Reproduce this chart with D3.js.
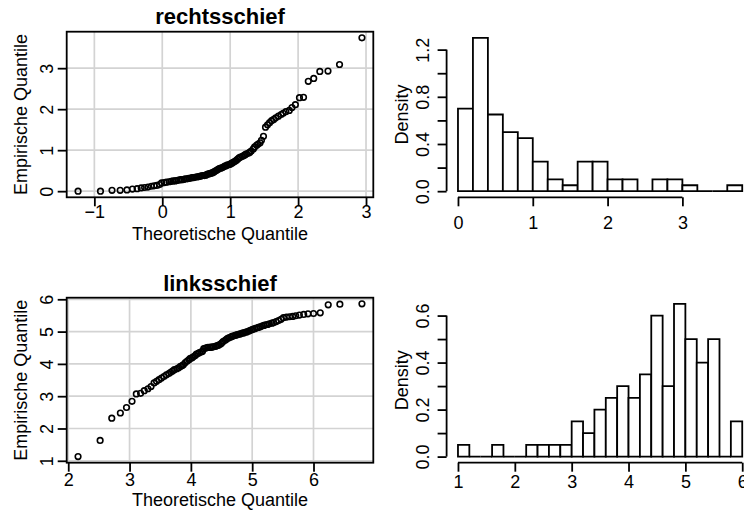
<!DOCTYPE html>
<html>
<head>
<meta charset="utf-8">
<script src="https://cdn.jsdelivr.net/npm/d3@7"></script>
<style>
  body { margin: 0; background: #fff; }
  svg { display: block; font-family: "Liberation Sans", Arial, Helvetica, sans-serif; }
</style>
</head>
<body>
<div id="chart"></div>
<script>
// ---- data ----
const rechtsTheo = [
  -1.24, -0.91, -0.74, -0.62, -0.52, -0.44, -0.37, -0.31, -0.26, -0.21,
  -0.16, -0.12, -0.08, -0.04, -0.01, 0.03, 0.06, 0.10, 0.13, 0.16,
  0.19, 0.21, 0.24, 0.27, 0.29, 0.32, 0.34, 0.37, 0.39, 0.42,
  0.44, 0.46, 0.48, 0.51, 0.53, 0.55, 0.57, 0.59, 0.62, 0.64,
  0.66, 0.68, 0.70, 0.72, 0.74, 0.76, 0.78, 0.80, 0.82, 0.84,
  0.86, 0.88, 0.90, 0.92, 0.94, 0.96, 0.99, 1.01, 1.03, 1.05,
  1.07, 1.09, 1.11, 1.13, 1.15, 1.18, 1.20, 1.22, 1.24, 1.27,
  1.29, 1.31, 1.34, 1.36, 1.39, 1.41, 1.44, 1.46, 1.49, 1.52,
  1.55, 1.58, 1.61, 1.64, 1.67, 1.71, 1.75, 1.78, 1.82, 1.87,
  1.91, 1.96, 2.02, 2.08, 2.15, 2.23, 2.32, 2.44, 2.61, 2.94
];
const rechtsEmp = [
  0.00, 0.00, 0.02, 0.02, 0.03, 0.05, 0.06, 0.08, 0.09, 0.10,
  0.12, 0.13, 0.14, 0.16, 0.20, 0.21, 0.22, 0.23, 0.24, 0.25,
  0.25, 0.26, 0.27, 0.28, 0.28, 0.29, 0.30, 0.30, 0.31, 0.32,
  0.33, 0.33, 0.34, 0.35, 0.35, 0.36, 0.37, 0.38, 0.38, 0.39,
  0.41, 0.42, 0.43, 0.44, 0.45, 0.47, 0.49, 0.51, 0.53, 0.55,
  0.56, 0.57, 0.59, 0.61, 0.62, 0.64, 0.65, 0.67, 0.69, 0.71,
  0.73, 0.75, 0.78, 0.81, 0.83, 0.85, 0.87, 0.89, 0.91, 0.93,
  0.95, 0.98, 1.03, 1.08, 1.12, 1.15, 1.18, 1.24, 1.34, 1.56,
  1.62, 1.67, 1.72, 1.75, 1.79, 1.83, 1.87, 1.90, 1.94, 1.97,
  2.04, 2.11, 2.28, 2.29, 2.68, 2.75, 2.92, 2.93, 3.09, 3.74
];
const linksTheo = [
  2.16, 2.52, 2.71, 2.85, 2.95, 3.04, 3.11, 3.18, 3.24, 3.30,
  3.35, 3.40, 3.44, 3.48, 3.52, 3.56, 3.60, 3.64, 3.67, 3.70,
  3.73, 3.77, 3.80, 3.83, 3.86, 3.88, 3.91, 3.94, 3.97, 3.99,
  4.02, 4.04, 4.07, 4.09, 4.12, 4.14, 4.17, 4.19, 4.21, 4.24,
  4.26, 4.28, 4.31, 4.33, 4.35, 4.37, 4.40, 4.42, 4.44, 4.46,
  4.49, 4.51, 4.53, 4.56, 4.58, 4.60, 4.62, 4.65, 4.67, 4.69,
  4.72, 4.74, 4.76, 4.79, 4.81, 4.84, 4.86, 4.89, 4.91, 4.94,
  4.96, 4.99, 5.01, 5.04, 5.07, 5.10, 5.13, 5.16, 5.19, 5.22,
  5.25, 5.28, 5.32, 5.35, 5.39, 5.43, 5.47, 5.51, 5.56, 5.61,
  5.66, 5.71, 5.77, 5.84, 5.91, 6.00, 6.11, 6.24, 6.43, 6.79
];
const linksEmp = [
  1.13, 1.63, 2.32, 2.48, 2.65, 2.84, 3.07, 3.09, 3.17, 3.23,
  3.30, 3.41, 3.46, 3.51, 3.56, 3.61, 3.66, 3.70, 3.74, 3.78,
  3.82, 3.85, 3.88, 3.92, 3.95, 3.98, 4.04, 4.09, 4.13, 4.17,
  4.19, 4.22, 4.26, 4.30, 4.33, 4.35, 4.37, 4.39, 4.47, 4.49,
  4.50, 4.51, 4.51, 4.52, 4.52, 4.53, 4.54, 4.56, 4.57, 4.59,
  4.62, 4.66, 4.70, 4.73, 4.76, 4.79, 4.81, 4.83, 4.85, 4.86,
  4.88, 4.89, 4.91, 4.92, 4.93, 4.95, 4.96, 4.98, 4.99, 5.01,
  5.03, 5.05, 5.07, 5.09, 5.11, 5.13, 5.15, 5.17, 5.19, 5.21,
  5.22, 5.24, 5.26, 5.28, 5.31, 5.34, 5.38, 5.43, 5.45, 5.46,
  5.47, 5.49, 5.51, 5.53, 5.55, 5.56, 5.58, 5.83, 5.85, 5.86
];

const rechtsBreaks = [0, 0.2, 0.4, 0.6, 0.8, 1, 1.2, 1.4, 1.6, 1.8, 2, 2.2, 2.4, 2.6, 2.8, 3, 3.2, 3.4, 3.6, 3.8];
const rechtsDensity = [0.70, 1.30, 0.65, 0.50, 0.45, 0.25, 0.10, 0.05, 0.25, 0.25, 0.10, 0.10, 0, 0.10, 0.10, 0.05, 0, 0, 0.05];
const linksBreaks = [1, 1.2, 1.4, 1.6, 1.8, 2, 2.2, 2.4, 2.6, 2.8, 3, 3.2, 3.4, 3.6, 3.8, 4, 4.2, 4.4, 4.6, 4.8, 5, 5.2, 5.4, 5.6, 5.8, 6];
const linksDensity = [0.05, 0, 0, 0.05, 0, 0, 0.05, 0.05, 0.05, 0.05, 0.15, 0.10, 0.20, 0.25, 0.30, 0.25, 0.35, 0.60, 0.30, 0.65, 0.50, 0.40, 0.50, 0, 0.15];

const rechtsQQxTicks = [-1, 0, 1, 2, 3];
const rechtsQQyTicks = [0, 1, 2, 3];
const linksQQxTicks = [2, 3, 4, 5, 6];
const linksQQyTicks = [1, 2, 3, 4, 5, 6];
const rechtsHistXTicks = [0, 1, 2, 3];
const rechtsHistYTicks = [0, 0.2, 0.4, 0.6, 0.8, 1.0, 1.2];
const linksHistXTicks = [1, 2, 3, 4, 5, 6];
const linksHistYTicks = [0, 0.1, 0.2, 0.3, 0.4, 0.5, 0.6];

// ---- drawing ----
const W = 744, H = 520;
const svg = d3.select("#chart").append("svg")
  .attr("width", W).attr("height", H)
  .attr("viewBox", [0, 0, W, H]);

const FS = 18;
const minus = d => (d < 0 ? "\u2212" + Math.abs(d) : String(d));

// R style 4% axis expansion
function pad(ext) {
  const d = (ext[1] - ext[0]) * 0.04;
  return [ext[0] - d, ext[1] + d];
}

function styleAxis(g) {
  g.select(".domain").remove();
  g.selectAll(".tick line").attr("stroke", "#000").attr("stroke-width", 1.8);
  g.selectAll(".tick text").attr("fill", "#000").style("font-size", FS + "px");
}

function bottomAxis(x, ticks, yPos, labY, fmt) {
  const g = svg.append("g")
    .attr("transform", `translate(0,${yPos})`)
    .call(d3.axisBottom(x).tickValues(ticks).tickSize(9).tickFormat(fmt));
  styleAxis(g);
  g.selectAll(".tick text").attr("y", labY - yPos).attr("dy", 0);
  return g;
}

function leftAxis(y, ticks, xPos, labX, fmt) {
  const g = svg.append("g")
    .attr("transform", `translate(${xPos},0)`)
    .call(d3.axisLeft(y).tickValues(ticks).tickSize(9).tickFormat(fmt));
  styleAxis(g);
  g.selectAll(".tick text")
    .attr("transform", "rotate(-90)")
    .attr("x", 0).attr("y", labX - xPos).attr("dy", 0)
    .attr("text-anchor", "middle");
  return g;
}

function yTitle(txt, x, cy) {
  svg.append("text")
    .attr("transform", `translate(${x},${cy}) rotate(-90)`)
    .attr("text-anchor", "middle")
    .style("font-size", FS + "px")
    .text(txt);
}

function qqPanel(theo, emp, xTicks, yTicks, title, L) {
  const x = d3.scaleLinear().domain(pad(d3.extent(theo))).range(L.x);
  const y = d3.scaleLinear().domain(pad(d3.extent(emp))).range([L.y[1], L.y[0]]);
  const g = svg.append("g");

  // grid
  g.selectAll(".gx").data(xTicks).join("line")
    .attr("x1", d => x(d)).attr("x2", d => x(d))
    .attr("y1", L.y[0]).attr("y2", L.y[1])
    .attr("stroke", "#d3d3d3").attr("stroke-width", 1.7);
  g.selectAll(".gy").data(yTicks).join("line")
    .attr("y1", d => y(d)).attr("y2", d => y(d))
    .attr("x1", L.x[0]).attr("x2", L.x[1])
    .attr("stroke", "#d3d3d3").attr("stroke-width", 1.7);

  // points
  g.selectAll("circle").data(d3.zip(theo, emp)).join("circle")
    .attr("cx", d => x(d[0])).attr("cy", d => y(d[1]))
    .attr("r", 2.8)
    .attr("fill", "none").attr("stroke", "#000").attr("stroke-width", 1.6);

  // box
  g.append("rect")
    .attr("x", L.x[0]).attr("y", L.y[0])
    .attr("width", L.x[1] - L.x[0]).attr("height", L.y[1] - L.y[0])
    .attr("fill", "none").attr("stroke", "#000").attr("stroke-width", 1.8);

  bottomAxis(x, xTicks, L.y[1], L.xLabY, minus);
  leftAxis(y, yTicks, L.x[0], L.yLabX, minus);

  svg.append("text")
    .attr("x", (L.x[0] + L.x[1]) / 2).attr("y", L.titleY)
    .attr("text-anchor", "middle")
    .style("font-size", "22px").style("font-weight", "bold")
    .text(title);
  svg.append("text")
    .attr("x", (L.x[0] + L.x[1]) / 2).attr("y", L.xTitleY)
    .attr("text-anchor", "middle")
    .style("font-size", FS + "px")
    .text("Theoretische Quantile");
  yTitle("Empirische Quantile", L.yTitleX, (L.y[0] + L.y[1]) / 2);
}

function histPanel(breaks, density, xTicks, yTicks, L) {
  const x = d3.scaleLinear().domain(pad(d3.extent(breaks))).range(L.x);
  const y = d3.scaleLinear().domain(pad([0, d3.max(density)])).range([L.y[1], L.y[0]]);
  const bins = density.map((d, i) => ({ x0: breaks[i], x1: breaks[i + 1], d }));

  // bars as closed paths so empty bins still show their base line
  svg.append("g").selectAll("path").data(bins).join("path")
    .attr("d", b => `M${x(b.x0)},${y(0)}V${y(b.d)}H${x(b.x1)}V${y(0)}Z`)
    .attr("fill", "#fff").attr("stroke", "#000").attr("stroke-width", 1.8);

  const fmt = d3.format(".1f");
  const gx = bottomAxis(x, xTicks, L.y[1], L.xLabY, d => d);
  gx.append("line")
    .attr("x1", x(xTicks[0])).attr("x2", x(xTicks[xTicks.length - 1]))
    .attr("stroke", "#000").attr("stroke-width", 1.8);
  const gy = leftAxis(y, yTicks, L.x[0], L.yLabX, (d, i) => (i % 2 ? "" : fmt(d)));
  gy.append("line")
    .attr("y1", y(yTicks[0])).attr("y2", y(yTicks[yTicks.length - 1]))
    .attr("stroke", "#000").attr("stroke-width", 1.8);

  yTitle("Density", L.yTitleX, (L.y[0] + L.y[1]) / 2);
}

qqPanel(rechtsTheo, rechtsEmp, rechtsQQxTicks, rechtsQQyTicks, "rechtsschief",
  { x: [66.7, 373.3], y: [31.7, 197.3], titleY: 24, xLabY: 218, xTitleY: 240, yLabX: 53.4, yTitleX: 27 });
histPanel(rechtsBreaks, rechtsDensity, rechtsHistXTicks, rechtsHistYTicks,
  { x: [446.6, 753.6], y: [31.7, 197.3], xLabY: 229, yLabX: 429, yTitleX: 407.6 });
qqPanel(linksTheo, linksEmp, linksQQxTicks, linksQQyTicks, "linksschief",
  { x: [66.7, 373.3], y: [297.7, 462.7], titleY: 290.7, xLabY: 486, xTitleY: 506, yLabX: 53.4, yTitleX: 27 });
histPanel(linksBreaks, linksDensity, linksHistXTicks, linksHistYTicks,
  { x: [446.6, 753.6], y: [297.7, 462.7], xLabY: 488, yLabX: 429, yTitleX: 407.6 });
</script>
</body>
</html>
